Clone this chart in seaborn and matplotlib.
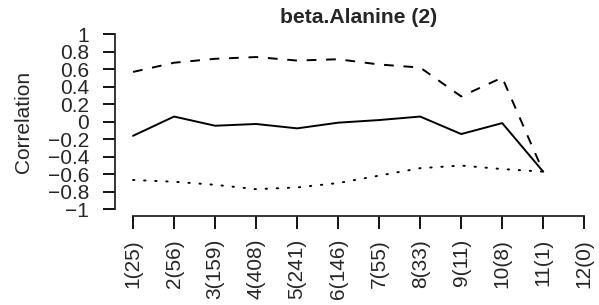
import numpy as np
import pandas as pd
import matplotlib
matplotlib.use('Agg')
from matplotlib import pyplot as plt
import seaborn as sns

labels = ['1(25)', '2(56)', '3(159)', '4(408)', '5(241)', '6(146)',
          '7(55)', '8(33)', '9(11)', '10(8)', '11(1)', '12(0)']
corr = [-0.16, 0.06, -0.045, -0.025, -0.075, -0.01, 0.02, 0.06, -0.14, -0.015, -0.57, np.nan]
upper = [0.57, 0.675, 0.72, 0.74, 0.70, 0.715, 0.655, 0.62, 0.29, 0.505, -0.57, np.nan]
lower = [-0.665, -0.685, -0.72, -0.77, -0.75, -0.70, -0.615, -0.53, -0.50, -0.54, -0.57, np.nan]
yticks = [-1, -0.8, -0.6, -0.4, -0.2, 0, 0.2, 0.4, 0.6, 0.8, 1]
ytick_labels = ['\u22121', '\u22120.8', '\u22120.6', '\u22120.4', '\u22120.2', '0',
                '0.2', '0.4', '0.6', '0.8', '1']

sns.set_style('ticks')
plt.rcParams['font.family'] = ['Liberation Sans', 'DejaVu Sans']

df = pd.DataFrame({'pos': np.arange(1, len(labels) + 1),
                   'corr': corr, 'upper': upper, 'lower': lower})

W, H = 599, 305
fig = plt.figure(figsize=(W / 100, H / 100), dpi=100)
ax = fig.add_axes([115 / W, (H - 216.3) / H, (602.3 - 115) / W, (216.3 - 27.3) / H])

lw = 1.4
sns.lineplot(data=df, x='pos', y='corr', ax=ax, color='black', lw=lw)
sns.lineplot(data=df, x='pos', y='upper', ax=ax, color='black', lw=lw,
             linestyle=(0, (5, 5)))
sns.lineplot(data=df, x='pos', y='lower', ax=ax, color='black', lw=lw,
             linestyle=(0, (0.7, 5)), dash_capstyle='round')

fs = 15
ax.set_xlim(0.56, 12.44)
ax.set_ylim(-1.08, 1.08)
ax.set_xticks(list(df['pos']))
ax.set_xticklabels(labels)
ax.set_yticks(yticks)
ax.set_yticklabels(ytick_labels)
ax.tick_params(axis='y', length=8.6, width=1.3, pad=10, color='black',
               labelsize=fs)
ax.tick_params(axis='x', length=9.3, width=1.3, pad=7, color='black',
               labelsize=fs, labelrotation=90)

for s in ['top', 'right']:
    ax.spines[s].set_visible(False)
ax.spines['left'].set_bounds(-1, 1)
ax.spines['bottom'].set_bounds(1, 12)
ax.spines['left'].set_linewidth(1.3)
ax.spines['bottom'].set_linewidth(1.3)

ax.set_xlabel('')
ax.set_ylabel('Correlation', fontsize=fs)
ax.set_title('beta.Alanine (2)', fontsize=15.2, fontweight='bold', pad=3,
             x=(358.5 - 115) / (602.3 - 115))
ax.yaxis.set_label_coords(-(115 - 33) / (602.3 - 115), 0.5)

fig.savefig('out.png', dpi=100)
